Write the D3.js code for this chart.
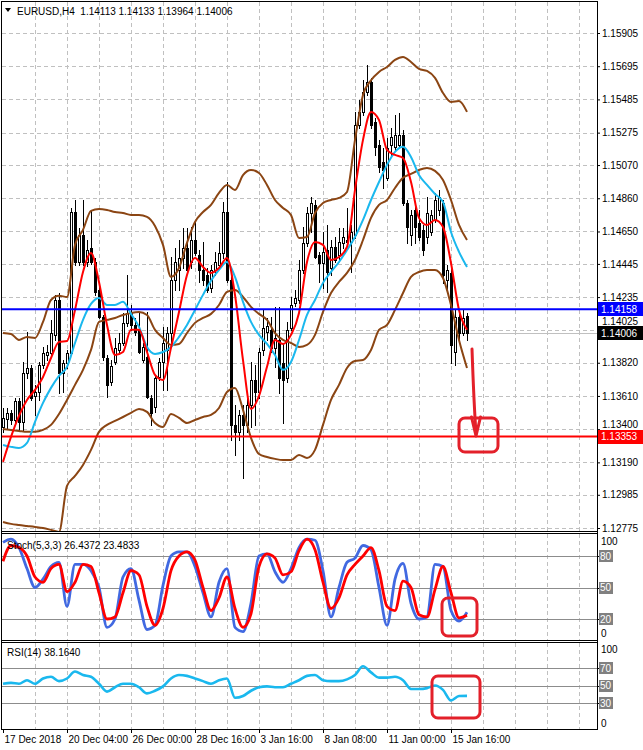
<!DOCTYPE html>
<html><head><meta charset="utf-8">
<script src="https://cdn.jsdelivr.net/npm/d3@7"></script>
<style>
html,body{margin:0;padding:0;background:#fff;}
svg{display:block;}
text{font-family:"Liberation Sans",Arial,sans-serif;font-size:10px;}
</style></head><body>
<svg id="chart" width="643" height="750"></svg>
<script>
// ---------------- DATA ----------------
const symbol = "EURUSD,H4";
const open = [1.13414,1.13465,1.13503,1.13458,1.13578,1.13446,1.13755,1.13787,1.13610,1.13635,1.13806,1.13869,1.13882,1.13996,1.14217,1.13755,1.13818,1.13882,1.14773,1.14457,1.14628,1.14457,1.14546,1.14457,1.14280,1.14110,1.13850,1.13699,1.13825,1.13901,1.13945,1.14072,1.14135,1.14059,1.14028,1.13837,1.13857,1.13597,1.13541,1.13730,1.13825,1.13901,1.14008,1.14344,1.14407,1.14483,1.14546,1.14457,1.14596,1.14502,1.14407,1.14375,1.14293,1.14407,1.14438,1.14514,1.14773,1.14344,1.13427,1.13382,1.13490,1.13427,1.13553,1.13711,1.13635,1.13901,1.14015,1.14028,1.13914,1.13964,1.13818,1.13724,1.14040,1.14198,1.14217,1.14407,1.14578,1.14767,1.14818,1.14502,1.14451,1.14533,1.14419,1.14552,1.14502,1.14578,1.14596,1.14584,1.14628,1.15324,1.15406,1.15532,1.15596,1.15343,1.15197,1.15090,1.14989,1.15197,1.15185,1.15197,1.15260,1.14830,1.14628,1.14786,1.14704,1.14660,1.14615,1.14647,1.14723,1.14786,1.14830,1.14344,1.14388,1.13888,1.14110,1.14008,1.14113];
const high = [1.13534,1.13534,1.13522,1.13597,1.13597,1.13825,1.14015,1.13806,1.13680,1.13825,1.13920,1.13933,1.14091,1.14249,1.14261,1.13837,1.13901,1.14799,1.14849,1.14672,1.14849,1.14596,1.14786,1.14483,1.14299,1.14122,1.13869,1.13837,1.13977,1.14008,1.14135,1.14375,1.14185,1.14103,1.14135,1.13945,1.14141,1.13616,1.13743,1.13850,1.14047,1.14047,1.14489,1.14546,1.14596,1.14672,1.14672,1.14679,1.14723,1.14533,1.14584,1.14419,1.14438,1.14521,1.14584,1.14837,1.14963,1.14407,1.13553,1.13522,1.13553,1.13597,1.13825,1.13806,1.13914,1.14154,1.14103,1.14110,1.14173,1.14173,1.13945,1.14078,1.14236,1.14280,1.14470,1.14679,1.14805,1.14868,1.14849,1.14521,1.14647,1.14691,1.14596,1.14615,1.14672,1.14672,1.14799,1.14691,1.15406,1.15482,1.15608,1.15703,1.15621,1.15368,1.15229,1.15178,1.15241,1.15305,1.15387,1.15399,1.15292,1.14849,1.14786,1.14818,1.14786,1.14691,1.14868,1.14786,1.14894,1.14913,1.14849,1.14438,1.14426,1.14154,1.14154,1.14154,1.14133];
const low = [1.13382,1.13408,1.13433,1.13439,1.13395,1.13395,1.13724,1.13585,1.13490,1.13585,1.13787,1.13837,1.13863,1.13964,1.13629,1.13635,1.13787,1.13869,1.14438,1.14438,1.14438,1.14432,1.14445,1.14249,1.14103,1.13837,1.13604,1.13680,1.13812,1.13888,1.13933,1.14053,1.14028,1.13996,1.13882,1.13825,1.13597,1.13427,1.13509,1.13711,1.13648,1.13648,1.13933,1.14280,1.14280,1.14419,1.14394,1.14419,1.14502,1.14331,1.14312,1.14268,1.14268,1.14375,1.14419,1.14483,1.14331,1.13332,1.13237,1.13332,1.13092,1.13383,1.13414,1.13427,1.13597,1.13869,1.13964,1.13888,1.13793,1.13629,1.13439,1.13699,1.14028,1.14179,1.14198,1.14388,1.14559,1.14647,1.14483,1.14331,1.14293,1.14268,1.14375,1.14457,1.14470,1.14546,1.14565,1.14394,1.14609,1.15305,1.15387,1.15513,1.15305,1.15134,1.15026,1.14925,1.14976,1.15134,1.15166,1.15178,1.14818,1.14578,1.14565,1.14578,1.14596,1.14502,1.14578,1.14628,1.14710,1.14754,1.14325,1.14261,1.13818,1.13806,1.13964,1.13996,1.13964];
const close = [1.13471,1.13503,1.13458,1.13578,1.13446,1.13755,1.13787,1.13597,1.13635,1.13806,1.13882,1.13888,1.14008,1.14217,1.13755,1.13818,1.13882,1.14773,1.14457,1.14628,1.14457,1.14533,1.14457,1.14268,1.14110,1.13857,1.13680,1.13800,1.13914,1.13945,1.14072,1.14135,1.14059,1.14015,1.13888,1.13920,1.13604,1.13503,1.13724,1.13825,1.13945,1.14008,1.14344,1.14457,1.14483,1.14546,1.14407,1.14596,1.14514,1.14407,1.14344,1.14280,1.14407,1.14457,1.14514,1.14773,1.14344,1.13427,1.13382,1.13490,1.13427,1.13553,1.13711,1.13635,1.13888,1.14040,1.14053,1.13914,1.13977,1.13724,1.13711,1.14028,1.14185,1.14230,1.14407,1.14578,1.14767,1.14830,1.14489,1.14451,1.14521,1.14394,1.14552,1.14470,1.14584,1.14615,1.14584,1.14647,1.15324,1.15406,1.15532,1.15596,1.15324,1.15185,1.15058,1.15039,1.15178,1.15248,1.15260,1.15260,1.14830,1.14679,1.14754,1.14679,1.14615,1.14533,1.14767,1.14754,1.14849,1.14868,1.14375,1.14407,1.13933,1.14110,1.14008,1.14103,1.14006];

// indicator values, one per two bars (bars 0,2,4,...,116)
const lineBars = d3.range(0, 117, 2);
const bbUpper = [1.14008,1.14002,1.13964,1.13983,1.13977,1.14078,1.14217,1.14243,1.14236,1.14565,1.14660,1.14780,1.14792,1.14786,1.14773,1.14767,1.14754,1.14754,1.14742,1.14685,1.14565,1.14363,1.14419,1.14578,1.14710,1.14773,1.14818,1.14894,1.14944,1.14913,1.15007,1.15039,1.15020,1.14944,1.14849,1.14799,1.14754,1.14609,1.14615,1.14767,1.14830,1.14849,1.14862,1.14900,1.15229,1.15513,1.15606,1.15659,1.15690,1.15735,1.15754,1.15722,1.15678,1.15665,1.15621,1.15526,1.15469,1.15475,1.15406];
const bbMiddle = [1.13401,1.13395,1.13389,1.13383,1.13383,1.13395,1.13427,1.13496,1.13585,1.13680,1.13775,1.13901,1.14078,1.14091,1.14103,1.14122,1.14135,1.14141,1.14122,1.14028,1.13977,1.13933,1.13939,1.14008,1.14072,1.14103,1.14129,1.14185,1.14268,1.14280,1.14236,1.14173,1.14129,1.14091,1.14008,1.13964,1.13945,1.13920,1.13933,1.13996,1.14141,1.14261,1.14331,1.14388,1.14470,1.14596,1.14736,1.14818,1.14849,1.14925,1.14989,1.15014,1.15039,1.15052,1.15033,1.14976,1.14849,1.14691,1.14596];
const bbLower = [1.12813,1.12801,1.12794,1.12788,1.12782,1.12775,1.12763,1.12750,1.13041,1.13104,1.13174,1.13269,1.13383,1.13427,1.13452,1.13477,1.13503,1.13528,1.13509,1.13439,1.13414,1.13496,1.13471,1.13439,1.13458,1.13477,1.13490,1.13534,1.13635,1.13661,1.13522,1.13345,1.13243,1.13224,1.13212,1.13205,1.13205,1.13237,1.13218,1.13269,1.13427,1.13585,1.13680,1.13787,1.13831,1.13837,1.13901,1.14028,1.14059,1.14154,1.14261,1.14363,1.14394,1.14407,1.14407,1.14356,1.14185,1.13964,1.13787];
const maFast = [1.13193,1.13351,1.13484,1.13585,1.13648,1.13730,1.13850,1.13952,1.13958,1.14154,1.14394,1.14514,1.14331,1.14059,1.13869,1.13888,1.14028,1.14028,1.13888,1.13743,1.13711,1.13914,1.14141,1.14375,1.14483,1.14426,1.14388,1.14419,1.14483,1.14249,1.13837,1.13528,1.13610,1.13794,1.13964,1.13939,1.13996,1.14135,1.14457,1.14584,1.14565,1.14470,1.14489,1.14552,1.14913,1.15229,1.15406,1.15355,1.15166,1.15134,1.15115,1.14963,1.14736,1.14691,1.14723,1.14679,1.14451,1.14154,1.14028];
const maSlow = [1.13300,1.13288,1.13281,1.13313,1.13446,1.13566,1.13661,1.13737,1.13794,1.13945,1.14091,1.14192,1.14230,1.14185,1.14185,1.14205,1.14129,1.14047,1.13920,1.13876,1.13888,1.13920,1.13983,1.14059,1.14154,1.14249,1.14338,1.14407,1.14457,1.14363,1.14205,1.14078,1.13996,1.13939,1.13869,1.13775,1.13825,1.13964,1.14122,1.14217,1.14325,1.14394,1.14457,1.14533,1.14615,1.14723,1.14849,1.14963,1.15071,1.15153,1.15185,1.15121,1.15007,1.14944,1.14887,1.14837,1.14647,1.14521,1.14426];
const stochK = [93,96,88,68,50,58,70,74,32,72,72,66,50,12,20,60,68,38,10,14,52,80,84,84,70,45,22,55,68,12,8,35,80,82,65,55,68,88,96,95,66,22,50,74,78,90,86,50,14,58,73,35,20,22,72,70,28,18,26.4372];
const stochD = [75,90,88,80,60,55,68,72,46,55,72,70,45,20,22,45,66,62,32,14,30,66,80,84,76,50,28,40,60,30,12,25,70,82,78,62,65,85,96,86,55,30,40,62,72,80,88,66,32,28,56,50,24,22,48,70,45,21,23.4833];
const rsi = [52,53,52,56,52,58,60,55,58,66,62,60,52,43,48,52,52,48,41,44,49,58,62,61,58,55,52,56,58,36,38,44,48,49,48,48,52,56,61,62,56,55,55,57,62,72,65,59,59,60,56,46,46,47,50,45,33,38,38.1640];

const priceTicks = [1.15905,1.15695,1.15485,1.15275,1.15070,1.14860,1.14650,1.14445,1.14235,1.14025,1.13820,1.13610,1.13400,1.13190,1.12985,1.12775];
const timeLabels = ["17 Dec 2018","20 Dec 04:00","26 Dec 00:00","28 Dec 16:00","3 Jan 16:00","8 Jan 08:00","11 Jan 00:00","15 Jan 16:00"];
const timeLabelBars = [0,16,32,48,64,80,96,112];
const resistance = 1.14158;
const target = 1.13353;
const stochLevels = [80,50,20];
const rsiLevels = [70,50,30];

// ---------------- LAYOUT ----------------
const FONT = '"Liberation Sans",Arial,sans-serif';
const svg = d3.select("#chart");
const fmt5 = d3.format(".5f"), fmt4 = d3.format(".4f");
const x = d3.scaleLinear().domain([0,148.5]).range([3,597]);
const y = d3.scaleLinear().domain([1.15905,1.12775]).range([33,528]);
const ys = d3.scaleLinear().domain([0,100]).range([640,535]);
const yr = d3.scaleLinear().domain([0,100]).range([729.25,641.75]);
const PX = i => Math.round(x(i));

svg.append("rect").attr("width",643).attr("height",750).attr("fill","#fff");
const defs = svg.append("defs");
defs.append("clipPath").attr("id","cm").append("rect").attr("x",2).attr("y",2).attr("width",595).attr("height",529);
defs.append("clipPath").attr("id","cs").append("rect").attr("x",2).attr("y",534).attr("width",595).attr("height",106);
defs.append("clipPath").attr("id","cr").append("rect").attr("x",2).attr("y",643).attr("width",595).attr("height",86);

const gridBars = d3.range(8,145,8);
const grid = svg.append("g").attr("stroke","#c0c0c0").attr("stroke-width",1).attr("stroke-dasharray","4,3").attr("shape-rendering","crispEdges");
[[2,531],[534,640],[643,729]].forEach(([t,b])=>{
  grid.selectAll(null).data(gridBars).enter().append("line")
    .attr("x1",d=>PX(d)+0.5).attr("x2",d=>PX(d)+0.5).attr("y1",t).attr("y2",b);
});
grid.selectAll(null).data(priceTicks).enter().append("line")
  .attr("x1",2).attr("x2",597).attr("y1",d=>Math.round(y(d))+0.5).attr("y2",d=>Math.round(y(d))+0.5);

// ---------------- MAIN PANEL ----------------
const gm = svg.append("g").attr("clip-path","url(#cm)");
const lastY = Math.round(y(close[close.length-1]))+0.5;
gm.append("line").attr("x1",2).attr("x2",597).attr("y1",lastY).attr("y2",lastY)
  .attr("stroke","#c0c0c0").attr("shape-rendering","crispEdges");

const gc = gm.append("g").attr("shape-rendering","crispEdges");
open.forEach((o,i)=>{
  const cx = PX(i), c = close[i];
  gc.append("line").attr("x1",cx+0.5).attr("x2",cx+0.5)
    .attr("y1",Math.round(y(high[i]))).attr("y2",Math.round(y(low[i]))+1).attr("stroke","#000");
  const top = Math.round(y(Math.max(o,c))), bot = Math.round(y(Math.min(o,c)));
  if (c >= o) {
    gc.append("rect").attr("x",cx-0.5).attr("y",top+0.5).attr("width",2).attr("height",Math.max(bot-top,1))
      .attr("fill","#fff").attr("stroke","#000");
  } else {
    gc.append("rect").attr("x",cx-1).attr("y",top).attr("width",3).attr("height",Math.max(bot-top+1,1)).attr("fill","#000");
  }
});

function drawLine(g, vals, scale, color, w){
  g.append("path").datum(vals)
   .attr("d", d3.line().x((d,k)=>x(lineBars[k])).y(d=>scale(d)).curve(d3.curveMonotoneX))
   .attr("fill","none").attr("stroke",color).attr("stroke-width",w).attr("stroke-linejoin","round");
}
drawLine(gm, bbUpper, y, "#8b4513", 2);
drawLine(gm, bbMiddle, y, "#8b4513", 2);
drawLine(gm, bbLower, y, "#8b4513", 2);
drawLine(gm, maSlow, y, "#1ab8ee", 2);
drawLine(gm, maFast, y, "#ff0000", 2);

gm.append("line").attr("x1",2).attr("x2",597).attr("y1",y(resistance)).attr("y2",y(resistance)).attr("stroke","#0000ff").attr("stroke-width",2);
gm.append("line").attr("x1",2).attr("x2",597).attr("y1",y(target)).attr("y2",y(target)).attr("stroke","#ff0000").attr("stroke-width",2);

// ---------------- STOCH ----------------
const gs = svg.append("g").attr("clip-path","url(#cs)");
gs.selectAll(null).data(stochLevels).enter().append("line")
  .attr("x1",2).attr("x2",597).attr("y1",d=>Math.round(ys(d))+0.5).attr("y2",d=>Math.round(ys(d))+0.5)
  .attr("stroke","#8c8c8c").attr("shape-rendering","crispEdges");
drawLine(gs, stochK, ys, "#4169e1", 2.8);
drawLine(gs, stochD, ys, "#ff0000", 2.8);

// ---------------- RSI ----------------
const gr = svg.append("g").attr("clip-path","url(#cr)");
gr.selectAll(null).data(rsiLevels).enter().append("line")
  .attr("x1",2).attr("x2",597).attr("y1",d=>Math.round(yr(d))+0.5).attr("y2",d=>Math.round(yr(d))+0.5)
  .attr("stroke","#8c8c8c").attr("shape-rendering","crispEdges");
drawLine(gr, rsi, yr, "#1ab8ee", 2.6);

// hand-drawn annotations
const ann = svg.append("g").attr("fill","none").attr("stroke","#e3202a").attr("stroke-width",3).attr("stroke-linecap","round").attr("stroke-linejoin","round");
ann.append("path").attr("d","M472,349 C473,378 474,405 476,433");
ann.append("path").attr("d","M471.5,417 L476,436 L480.5,417");
ann.append("rect").attr("x",459).attr("y",418).attr("width",39).attr("height",34).attr("rx",6);
ann.append("rect").attr("x",442).attr("y",598).attr("width",35).attr("height",38).attr("rx",6);
ann.append("rect").attr("x",432).attr("y",676).attr("width",48).attr("height",42).attr("rx",6);

// ---------------- FRAMES ----------------
const fr = svg.append("g").attr("stroke","#000").attr("shape-rendering","crispEdges");
fr.append("line").attr("x1",1.5).attr("x2",597.5).attr("y1",1.5).attr("y2",1.5);
fr.append("line").attr("x1",1.5).attr("x2",1.5).attr("y1",1).attr("y2",730);
fr.append("line").attr("x1",597.5).attr("x2",597.5).attr("y1",1).attr("y2",730);
[531.5,533.5,640.5,642.5,729.5].forEach(v=>fr.append("line").attr("x1",1.5).attr("x2",597.5).attr("y1",v).attr("y2",v));

// ---------------- AXES ----------------
const styleAxis = g => { g.select(".domain").remove(); g.attr("font-family",FONT).attr("font-size",10); g.selectAll("line").attr("stroke","#000"); g.selectAll("text").attr("fill","#000"); };
const priceLabelShift = {"1.14025": {dy:-9, size:9}, "1.13400": {dy:-5, size:10}};
svg.append("g").attr("transform","translate(597,0)")
  .call(d3.axisRight(y).tickValues(priceTicks).tickSize(3).tickPadding(2).tickFormat(fmt5)).call(styleAxis)
  .call(g=>g.selectAll(".tick text").each(function(d){
    const s = priceLabelShift[fmt5(d)];
    if (s) d3.select(this).attr("y", s.dy).attr("font-size", s.size);
  }));

svg.append("g").attr("transform","translate(0,729)")
  .call(d3.axisBottom(x).tickValues(timeLabelBars).tickSize(4).tickPadding(3).tickFormat((d,i)=>timeLabels[i]))
  .call(styleAxis)
  .call(g=>g.selectAll("text").attr("text-anchor","start").attr("dx",1).attr("font-size",9.6));

function priceBox(v, fill){
  const yy = y(v);
  svg.append("rect").attr("x",598).attr("y",Math.round(yy)-7).attr("width",45).attr("height",14).attr("fill",fill);
  svg.append("text").attr("x",601).attr("y",yy).attr("dy","0.35em").attr("fill","#fff").text(fmt5(v));
}
priceBox(resistance,"#0000ff");
priceBox(close[close.length-1],"#000");
priceBox(target,"#ff0000");

function levelLabels(scale, levels, topY, botY){
  levels.forEach(v=>{
    const yy = scale(v);
    svg.append("rect").attr("x",599).attr("y",Math.round(yy)-6).attr("width",14).attr("height",12).attr("fill","#808080");
    svg.append("text").attr("x",600).attr("y",yy).attr("dy","0.35em").attr("fill","#fff").text(v);
  });
  svg.append("text").attr("x",601).attr("y",topY).attr("dy","0.35em").attr("fill","#000").text("100");
  svg.append("text").attr("x",601).attr("y",botY).attr("dy","0.35em").attr("fill","#000").text("0");
}
levelLabels(ys, stochLevels, 541, 633);
levelLabels(yr, rsiLevels, 649, 723);
svg.append("g").attr("stroke","#000").attr("shape-rendering","crispEdges")
  .selectAll(null).data(stochLevels.map(ys).concat(rsiLevels.map(yr))).enter().append("line")
  .attr("x1",597).attr("x2",599).attr("y1",d=>Math.round(d)+0.5).attr("y2",d=>Math.round(d)+0.5);

// ---------------- TITLES ----------------
svg.append("path").attr("d","M5,8 L11,8 L8,12 Z").attr("fill","#000");
const n = close.length-1;
svg.append("text").attr("x",17).attr("y",11).attr("dy","0.35em").attr("fill","#000").attr("font-size",9.4)
  .style("white-space","pre")
  .text(`${symbol}  ${fmt5(open[n])} ${fmt5(high[n])} ${fmt5(low[n])} ${fmt5(close[n])}`);
svg.append("text").attr("x",7).attr("y",545).attr("dy","0.35em").attr("fill","#000").attr("font-size",9.4)
  .text(`Stoch(5,3,3) ${fmt4(stochK[stochK.length-1])} ${fmt4(stochD[stochD.length-1])}`);
svg.append("text").attr("x",7).attr("y",652).attr("dy","0.35em").attr("fill","#000").attr("font-size",9.4)
  .text(`RSI(14) ${fmt4(rsi[rsi.length-1])}`);
</script>
</body></html>
